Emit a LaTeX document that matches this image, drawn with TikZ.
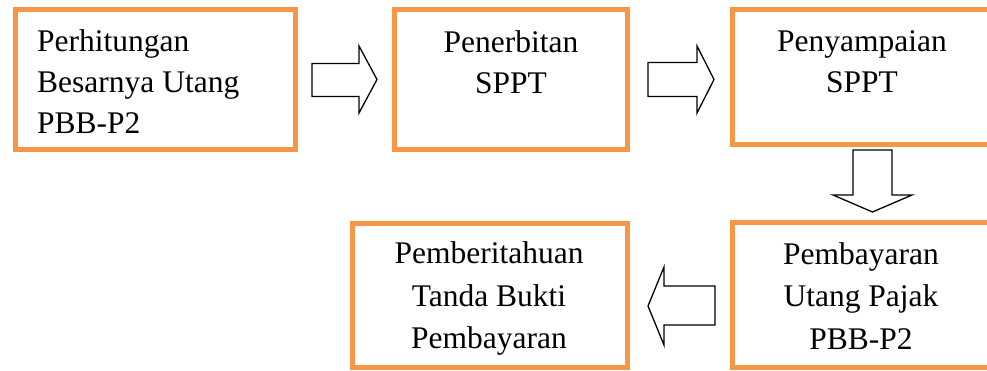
\documentclass[tikz,border=0pt]{standalone}
\usepackage{fontspec}
\setmainfont{Liberation Serif}
\definecolor{boxorange}{HTML}{F79646}
\tikzset{
  stagebox/.style={draw=boxorange, line width=5pt, fill=white, rectangle, inner sep=0pt},
  stagetext/.style={inner sep=0pt, font=\fontsize{31.5}{41}\selectfont},
  lowtext/.style={inner sep=0pt, font=\fontsize{31.5}{42.5}\selectfont},
  blockarrow/.style={draw=black, line width=1.3pt, fill=white, line join=miter}
}
\setlength{\tabcolsep}{0pt}
\begin{document}
\begin{tikzpicture}[x=1pt,y=-1pt]
\useasboundingbox (0,0) rectangle (987,371);
% boxes
\node[stagebox, minimum width=280pt, minimum height=140pt] (b1) at (155.5,79.5) {};
\node[stagebox, minimum width=233pt, minimum height=140pt] (b2) at (511,79.5) {};
\node[stagebox, minimum width=259.5pt, minimum height=135pt] (b3) at (862.25,77) {};
\node[stagebox, minimum width=275pt, minimum height=144pt] (b4) at (490,295.5) {};
\node[stagebox, minimum width=259.5pt, minimum height=145pt] (b5) at (862.25,295) {};
% texts
\node[stagetext, anchor=base west] (t1) at (37,52) {\begin{tabular}[t]{l}Perhitungan\\Besarnya Utang\\PBB-P2\end{tabular}};
\node[stagetext, anchor=base] (t2) at (511,53) {\begin{tabular}[t]{c}Penerbitan\\SPPT\end{tabular}};
\node[stagetext, anchor=base] (t3) at (862,52) {\begin{tabular}[t]{c}Penyampaian\\SPPT\end{tabular}};
\node[lowtext, anchor=base] (t4) at (489,264) {\begin{tabular}[t]{c}Pemberitahuan\\Tanda Bukti\\Pembayaran\end{tabular}};
\node[lowtext, anchor=base] (t5) at (861,264.5) {\begin{tabular}[t]{c}Pembayaran\\Utang Pajak\\PBB-P2\end{tabular}};
% block arrows
\draw[blockarrow] (312,63.5) -- (359,63.5) -- (359,46) -- (377,79.5) -- (359,113) -- (359,96.5) -- (312,96.5) -- cycle;
\draw[blockarrow] (648,62.5) -- (697,62.5) -- (697,46) -- (714,79.5) -- (697,113) -- (697,96.5) -- (648,96.5) -- cycle;
\draw[blockarrow] (853,150) -- (892,150) -- (892,195) -- (912,195) -- (872.5,212) -- (833,195) -- (853,195) -- cycle;
\draw[blockarrow] (715,286) -- (664,286) -- (664,267) -- (648,306) -- (664,345) -- (664,325) -- (715,325) -- cycle;
\end{tikzpicture}
\end{document}
